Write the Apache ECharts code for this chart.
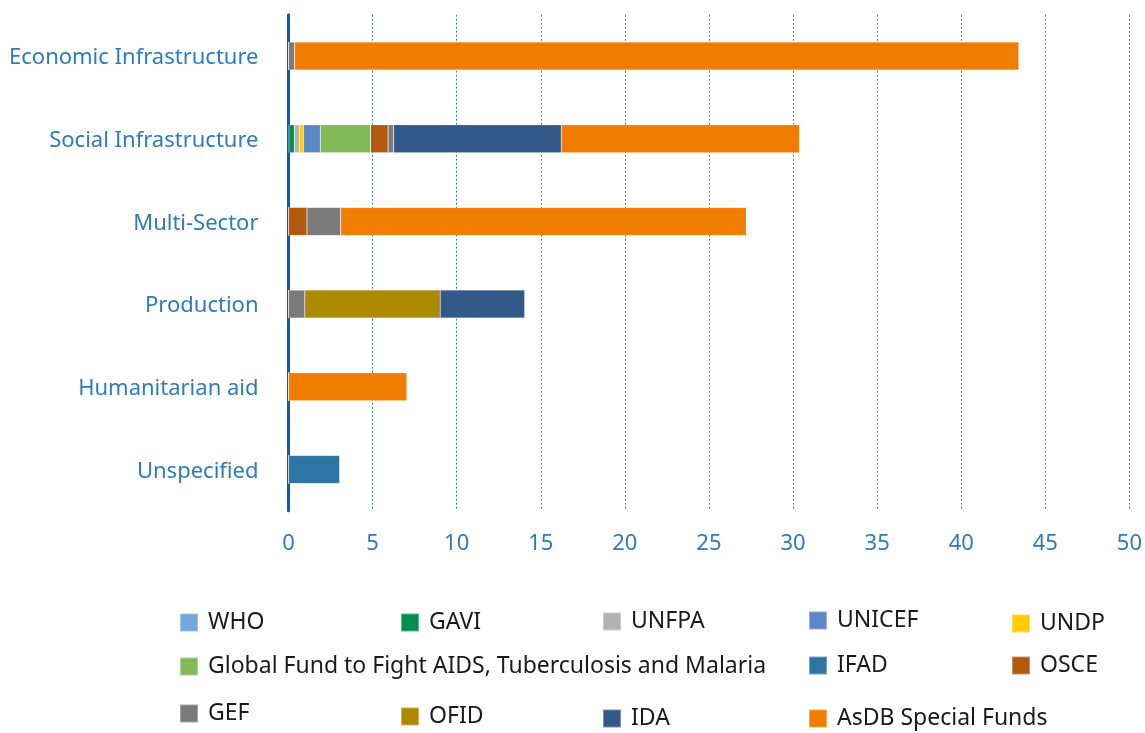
<!DOCTYPE html>
<html>
<head>
<meta charset="utf-8">
<script src="https://cdn.jsdelivr.net/npm/echarts@6/dist/echarts.min.js"></script>
<style>html,body{margin:0;padding:0;background:#fff;}#c{width:1145px;height:733px;}</style>
</head>
<body>
<div id="c"></div>
<script>
const categories = ['Economic Infrastructure', 'Social Infrastructure', 'Multi-Sector', 'Production', 'Humanitarian aid', 'Unspecified'];
const xTicks = [0, 5, 10, 15, 20, 25, 30, 35, 40, 45, 50];

const WHO    = [0, 0.05, 0, 0, 0, 0];
const GAVI   = [0, 0.3, 0, 0, 0, 0];
const UNFPA  = [0, 0.3, 0, 0, 0, 0];
const UNDP   = [0, 0.24, 0, 0, 0, 0];
const UNICEF = [0, 1.0, 0, 0, 0, 0];
const GFATM  = [0, 3.0, 0, 0, 0, 0];
const IFAD   = [0, 0, 0, 0, 0, 3.06];
const OSCE   = [0, 1.03, 1.1, 0, 0, 0];
const GEF    = [0.36, 0.33, 2.0, 0.97, 0, 0];
const OFID   = [0, 0, 0, 8.05, 0, 0];
const IDA    = [0, 9.97, 0, 5.03, 0, 0];
const ASDB   = [43.06, 14.16, 24.12, 0, 7.04, 0];

const seriesDefs = [
  ['WHO', WHO, '#6FAADB'],
  ['GAVI', GAVI, '#00904A'],
  ['UNFPA', UNFPA, '#B3B3B3'],
  ['UNDP', UNDP, '#FFCC00'],
  ['UNICEF', UNICEF, '#5B87C8'],
  ['Global Fund to Fight AIDS, Tuberculosis and Malaria', GFATM, '#82BA5A'],
  ['IFAD', IFAD, '#2E75A3'],
  ['OSCE', OSCE, '#B15A0E'],
  ['GEF', GEF, '#7A7A7A'],
  ['OFID', OFID, '#AD8900'],
  ['IDA', IDA, '#33588A'],
  ['AsDB Special Funds', ASDB, '#F07D00']
];

// legend layout: [name, left, iconCenterY]
const legendLayout = [
  ['WHO', 179, 624], ['GAVI', 400, 624], ['UNFPA', 602, 623], ['UNICEF', 808, 622], ['UNDP', 1011, 625],
  ['Global Fund to Fight AIDS, Tuberculosis and Malaria', 179, 668], ['IFAD', 808, 667], ['OSCE', 1011, 667],
  ['GEF', 179, 715], ['OFID', 400, 718], ['IDA', 602, 720], ['AsDB Special Funds', 808, 720]
];

const FONT = 'Noto Sans';
const chart = echarts.init(document.getElementById('c'));
chart.setOption({
  animation: false,
  grid: { left: 288.5, right: 13.5, top: 14.7, bottom: 222.2, containLabel: false },
  xAxis: {
    type: 'value', min: 0, max: 50, interval: 5,
    axisLine: { show: false }, axisTick: { show: false },
    splitLine: { show: true, lineStyle: { color: '#2F86C6', type: [2, 2], width: 1 } },
    axisLabel: { color: '#2E7BBE', fontFamily: FONT, fontSize: 22, margin: 22,
      formatter: v => xTicks.includes(v) ? String(v) : '' }
  },
  yAxis: {
    type: 'category', data: categories, inverse: true,
    axisLine: { show: true, lineStyle: { color: '#0B5FA8', width: 3 } },
    axisTick: { show: false },
    axisLabel: { margin: 30,
      formatter: v => '{a|' + v + '}',
      rich: { a: { color: '#2E7BBE', fontFamily: FONT, fontSize: 22, padding: [4, 0, 0, 0] } } }
  },
  legend: legendLayout.map(([name, left, cy]) => ({
    data: [name], left: left, top: cy - 13, padding: 0,
    icon: 'rect', itemWidth: 18, itemHeight: 18, itemGap: 0,
    textStyle: { color: '#1a1a1a', fontFamily: FONT, fontSize: 23, padding: [0, 0, 0, 5] },
    selectedMode: false
  })),
  series: seriesDefs.map(([name, data, color]) => ({
    name: name, type: 'bar', stack: 'total', data: data, barWidth: 28,
    itemStyle: { color: color, borderColor: 'rgba(255,255,255,0.35)', borderWidth: 0.5 }
  }))
});
</script>
</body>
</html>
